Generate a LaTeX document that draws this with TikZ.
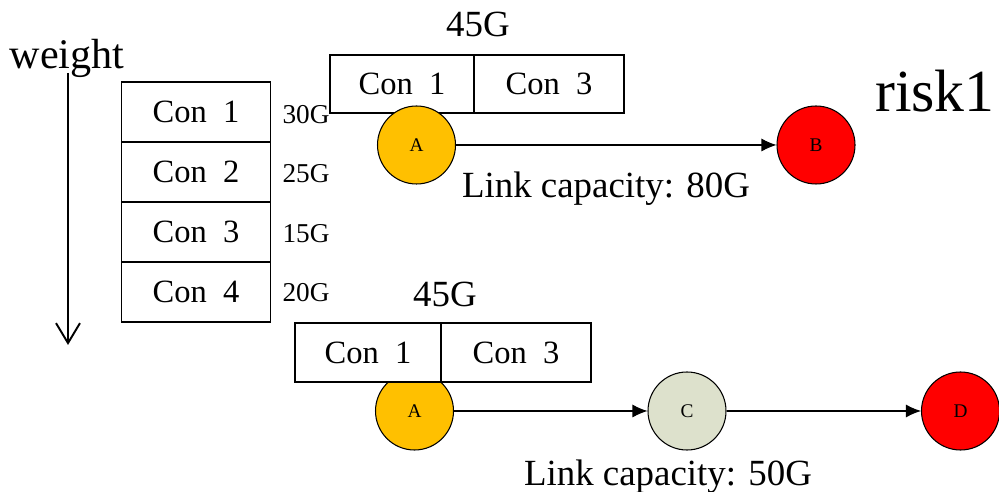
\documentclass[tikz,border=0pt]{standalone}
\usepackage{fontspec}
\setmainfont{Liberation Serif}
\usetikzlibrary{arrows.meta,positioning}

\definecolor{nodeorange}{HTML}{FFC000}
\definecolor{nodered}{HTML}{FF0000}
\definecolor{nodegrey}{HTML}{DDE1CC}

\tikzset{
  conbox/.style={draw,line width=0.6pt,fill=white,inner sep=0pt,
    minimum width=29.8mm,minimum height=12mm,font=\fontsize{18.5}{20}\selectfont},
  router/.style={circle,draw,line width=0.6pt,inner sep=0pt,
    minimum size=15.6mm,font=\fontsize{11}{12}\selectfont},
  link/.style={-{Latex[length=3mm,width=2.6mm]},line width=0.6pt},
  bigtext/.style={anchor=base,font=\fontsize{21}{24}\selectfont},
  valtext/.style={anchor=base,font=\fontsize{15.5}{18}\selectfont}
}

\begin{document}
\begin{tikzpicture}[x=0.2mm,y=-0.2mm]

\useasboundingbox (0,0) rectangle (999,492);

% weight axis
\node[bigtext,font=\fontsize{24}{26}\selectfont] (weight) at (67,69) {weight};
\coordinate (wtop) at (68,73);
\coordinate (wend) at (68,345);
\draw[-{Straight Barb[length=4mm,width=4.8mm]},line width=1.1pt] (wtop)--(wend);

% connection table
\node[conbox] (c1) at (196,112) {Con~~1};
\node[conbox] (c2) at (196,172) {Con~~2};
\node[conbox] (c3) at (196,232) {Con~~3};
\node[conbox] (c4) at (196,292) {Con~~4};

\node[valtext] (v1) at (306,124) {30G};
\node[valtext] (v2) at (306,183) {25G};
\node[valtext] (v3) at (306,243) {15G};
\node[valtext] (v4) at (306,302) {20G};

% top path
\node[conbox,minimum width=28.8mm,minimum height=11.6mm] (t1) at (402,84) {Con~~1};
\node[conbox,minimum width=30mm,minimum height=11.6mm] (t3) at (549,84) {Con~~3};
\node[bigtext] (tsum) at (478,37) {45G};

\node[router,fill=nodeorange] (a) at (416.5,145) {A};
\node[router,fill=nodered] (b) at (816,145) {B};
\draw[link] (a)--(b);
\node[bigtext] (tcap) at (606,198) {Link capacity: 80G};

\node[anchor=base east,inner sep=0pt,font=\fontsize{34}{38}\selectfont] (risk) at (995,112) {risk1};

% bottom path
\node[router,fill=nodeorange] (a2) at (414.5,411) {A};
\node[conbox,minimum width=29.2mm,minimum height=11.8mm] (b1) at (368,352.5) {Con~~1};
\node[conbox,minimum width=30mm,minimum height=11.8mm] (b3) at (516,352.5) {Con~~3};
\node[bigtext] (bsum) at (445,307) {45G};

\node[router,fill=nodegrey] (c) at (687,411) {C};
\node[router,fill=nodered] (d) at (960.5,411) {D};
\draw[link] (a2)--(c);
\draw[link] (c)--(d);
\node[bigtext] (bcap) at (668,485) {Link capacity: 50G};

\end{tikzpicture}
\end{document}
